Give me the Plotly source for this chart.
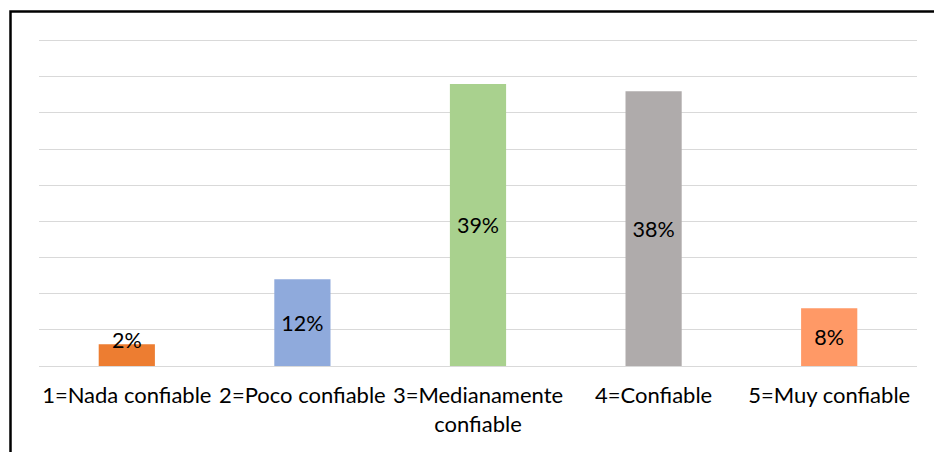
import plotly.graph_objects as go

categories = ["1=Nada confiable", "2=Poco confiable", "3=Medianamente<br>confiable",
              "4=Confiable", "5=Muy confiable"]
values = [3.0, 12.0, 39.0, 38.0, 8.0]
labels = ["2%", "12%", "39%", "38%", "8%"]
colors = ["#ED7D31", "#8FAADC", "#A9D18E", "#AFABAB", "#FF9966"]
label_pos = ["none", "inside", "inside", "inside", "inside"]

W, H = 934, 452
ml, mr, mt, mb = 39, 17, 37, 86
FONT = "Lato"

fig = go.Figure(go.Bar(
    x=categories, y=values, text=labels,
    textposition=label_pos, insidetextanchor="middle",
    textfont=dict(family=FONT, size=21.5, color="#000000"),
    marker=dict(color=colors, line=dict(width=0)),
    width=0.32, cliponaxis=False, constraintext="none",
))

# label of the small first bar sits on its top edge (as in the reference)
fig.add_annotation(x=categories[0], y=values[0], text=labels[0], showarrow=False,
                   yanchor="middle", yshift=4,
                   font=dict(family=FONT, size=21.5, color="#000000"))

pw = W - ml - mr
ph = H - mt - mb
fig.add_shape(type="rect", xref="paper", yref="paper",
              x0=(10.5 - ml) / pw, x1=1.1,
              y0=-0.6, y1=(H - mb - 11.5) / ph,
              line=dict(color="#000000", width=2.5), layer="above")

fig.update_layout(
    width=W, height=H,
    margin=dict(l=ml, r=mr, t=mt, b=mb),
    plot_bgcolor="white", paper_bgcolor="white",
    showlegend=False,
    bargap=0.68,
    xaxis=dict(showline=False, ticks="", tickfont=dict(family=FONT, size=22, color="#000000"),
               tickangle=0, automargin=False, ticklabelstandoff=14),
    yaxis=dict(range=[0, 45.5], tickvals=[0, 5, 10, 15, 20, 25, 30, 35, 40, 45],
               showticklabels=False, showgrid=True,
               gridcolor="#D9D9D9", gridwidth=1.3, zeroline=True,
               zerolinecolor="#D9D9D9", zerolinewidth=1.3, showline=False),
)

fig.write_html("out.html")
